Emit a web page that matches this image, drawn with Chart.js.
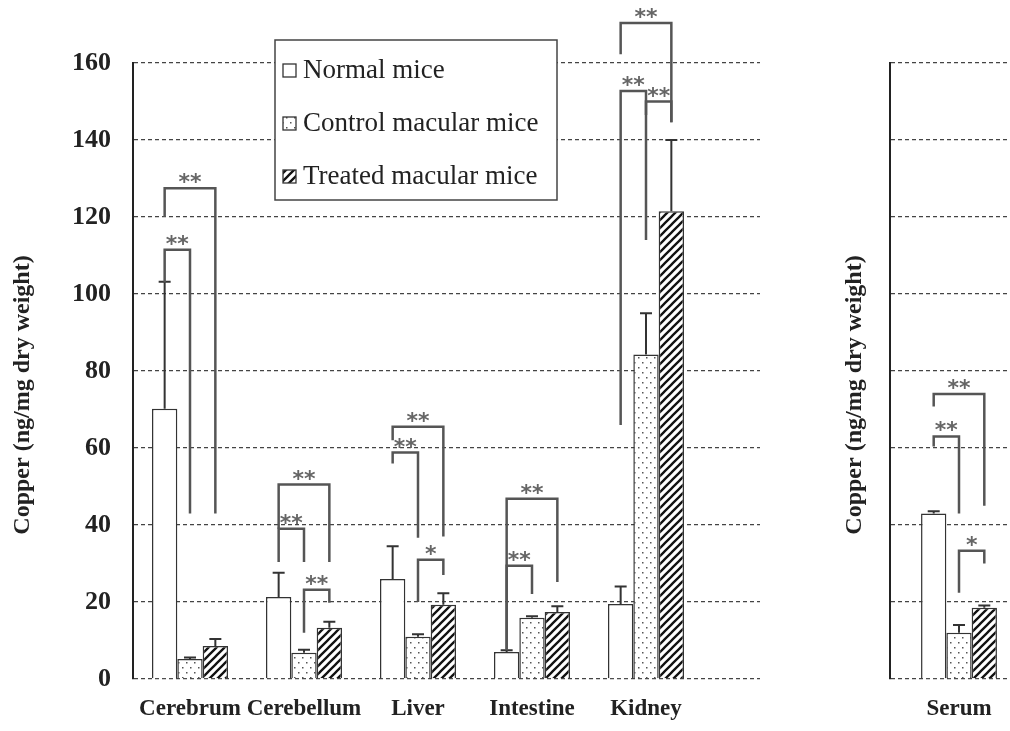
<!DOCTYPE html>
<html>
<head>
<meta charset="utf-8">
<script src="https://cdn.jsdelivr.net/npm/chart.js@4.4.0/dist/chart.umd.min.js"></script>
<style>
  html, body { margin: 0; padding: 0; background: #fff; overflow: hidden; width: 1010px; height: 731px; }
  #organChart { position: absolute; left: 0; top: 0; }
  #serumChart { position: absolute; left: 820px; top: 0; }
</style>
</head>
<body>
<canvas id="organChart" width="780" height="731"></canvas>
<canvas id="serumChart" width="215" height="731"></canvas>
<script>
// values (ng/mg dry weight)
const organs = ["Cerebrum", "Cerebellum", "Liver", "Intestine", "Kidney"];
const seriesNames = ["Normal mice", "Control macular mice", "Treated macular mice"];

const normalMice = [70.2, 21.3, 26, 7, 19.5];
const controlMice = [5.2, 6.8, 11, 15.9, 84.3];
const treatedMice = [8.6, 13.3, 19.3, 17.4, 121.5];

const normalSD = [33, 6.3, 8.5, 0.5, 4.5];
const controlSD = [0.4, 0.8, 0.6, 0.4, 10.7];
const treatedSD = [1.8, 1.6, 3, 1.5, 18.5];

const serumLabel = ["Serum"];
const serumMeans = [43, 12, 18.5];
const serumSD = [0.6, 2, 0.6];

// significance brackets: [category, from series, to series, top, left leg end, right leg end, label]
const organBrackets = [
  [0, 0, 2, 127.5, 120, 43, "**"],
  [0, 0, 1, 111.5, 103, 43, "**"],
  [1, 0, 2, 50.5, 39, 30.4, "**"],
  [1, 0, 1, 39, 30.4, 30.4, "**"],
  [1, 1, 2, 23.2, 12, 19.8, "**"],
  [2, 0, 2, 65.5, 62, 37, "**"],
  [2, 0, 1, 58.8, 56, 36.7, "**"],
  [2, 1, 2, 31, 20, 27, "*"],
  [3, 0, 2, 46.8, 7.5, 25.2, "**"],
  [3, 0, 1, 29.4, 7.5, 22.1, "**"],
  [4, 0, 2, 170.4, 162.3, 144.6, "**"],
  [4, 0, 1, 152.7, 66, 146.5, "**"],
  [4, 1, 2, 150, 114, 144.6, "**"],
];
const serumBrackets = [
  [0, 0, 2, 74, 70.8, 45, "**"],
  [0, 0, 1, 63, 60.4, 43, "**"],
  [0, 1, 2, 33.3, 22.4, 30, "*"],
];

const yTitle = "Copper (ng/mg dry weight)";

// fill patterns
function makeDots() {
  const c = document.createElement("canvas");
  c.width = 8; c.height = 10;
  const g = c.getContext("2d");
  g.fillStyle = "#fff"; g.fillRect(0, 0, 8, 10);
  g.fillStyle = "#555";
  g.fillRect(2, 2, 1.5, 1.5);
  g.fillRect(6, 7, 1.5, 1.5);
  return g.createPattern(c, "repeat");
}
function makeHatch() {
  const c = document.createElement("canvas");
  c.width = 8; c.height = 8;
  const g = c.getContext("2d");
  g.fillStyle = "#fff"; g.fillRect(0, 0, 8, 8);
  g.strokeStyle = "#111"; g.lineWidth = 2.3;
  g.beginPath();
  g.moveTo(-2, 10); g.lineTo(10, -2);
  g.moveTo(-2, 2); g.lineTo(2, -2);
  g.moveTo(6, 10); g.lineTo(10, 6);
  g.stroke();
  return g.createPattern(c, "repeat");
}
const dots = makeDots();
const hatch = makeHatch();
const fills = ["#fff", dots, hatch];

// upward error bars with a cap
const errorBars = {
  id: "errorBars",
  afterDatasetsDraw(chart) {
    const ctx = chart.ctx;
    const y = chart.scales.y;
    ctx.save();
    ctx.strokeStyle = "#333";
    ctx.lineWidth = 2;
    chart.data.datasets.forEach((ds, i) => {
      const meta = chart.getDatasetMeta(i);
      meta.data.forEach((bar, j) => {
        const v = meta.controller.getParsed(j).y;
        const top = y.getPixelForValue(v + ds.sd[j]);
        ctx.beginPath();
        ctx.moveTo(bar.x, bar.y);
        ctx.lineTo(bar.x, top);
        ctx.moveTo(bar.x - 6, top);
        ctx.lineTo(bar.x + 6, top);
        ctx.stroke();
      });
    });
    ctx.restore();
  },
};

function bracketPlugin(items) {
  return {
    id: "sigBrackets",
    afterDatasetsDraw(chart) {
      const ctx = chart.ctx;
      const y = chart.scales.y;
      ctx.save();
      ctx.strokeStyle = "#555";
      ctx.lineWidth = 2.5;
      ctx.fillStyle = "#666";
      ctx.font = "bold 22px 'DejaVu Sans'";
      ctx.textAlign = "center";
      ctx.textBaseline = "alphabetic";
      items.forEach(([cat, from, to, top, endA, endB, label]) => {
        const x1 = chart.getDatasetMeta(from).data[cat].x;
        const x2 = chart.getDatasetMeta(to).data[cat].x;
        const yt = y.getPixelForValue(top);
        ctx.beginPath();
        ctx.moveTo(x1, y.getPixelForValue(endA));
        ctx.lineTo(x1, yt);
        ctx.lineTo(x2, yt);
        ctx.lineTo(x2, y.getPixelForValue(endB));
        ctx.stroke();
        ctx.fillText(label, (x1 + x2) / 2, yt + 1);
      });
      ctx.restore();
    },
  };
}

// rotated y title, sitting a little below the axis middle as in the figure
function yTitlePlugin(cx) {
  return {
    id: "yTitle",
    afterDraw(chart) {
      const ctx = chart.ctx;
      const area = chart.chartArea;
      ctx.save();
      ctx.translate(cx, (area.top + area.bottom) / 2 + 24);
      ctx.rotate(-Math.PI / 2);
      ctx.font = "bold 24px 'Liberation Serif'";
      ctx.fillStyle = "#222";
      ctx.textAlign = "center";
      ctx.textBaseline = "middle";
      ctx.fillText(yTitle, 0, 0);
      ctx.restore();
    },
  };
}

// boxed legend inside the plot
const legendBox = {
  id: "legendBox",
  afterDraw(chart) {
    const ctx = chart.ctx;
    const left = chart.chartArea.left + 142;
    const top = 40;
    ctx.save();
    ctx.fillStyle = "#fff";
    ctx.fillRect(left, top, 282, 160);
    ctx.strokeStyle = "#444";
    ctx.lineWidth = 1.5;
    ctx.strokeRect(left, top, 282, 160);
    ctx.font = "27px 'Liberation Serif'";
    ctx.textBaseline = "middle";
    chart.data.datasets.forEach((ds, i) => {
      const cy = top + 30 + i * 53;
      ctx.fillStyle = ds.backgroundColor;
      ctx.fillRect(left + 8, cy - 6, 13, 13);
      ctx.strokeStyle = "#333";
      ctx.lineWidth = 1.3;
      ctx.strokeRect(left + 8, cy - 6, 13, 13);
      ctx.fillStyle = "#222";
      ctx.fillText(ds.label, left + 28, cy + 1);
    });
    ctx.restore();
  },
};

function yScale(showTicks, width) {
  return {
    min: 0,
    max: 160,
    ticks: {
      display: showTicks,
      stepSize: 20,
      padding: 22,
      color: "#222",
      font: { family: "Liberation Serif", size: 26, weight: "bold" },
    },
    grid: { color: "#444", lineWidth: 1.3, drawTicks: false },
    border: { display: true, color: "#222", width: 2, dash: [4, 3] },
    afterFit: (s) => { s.width = width; },
  };
}

const xFont = { family: "Liberation Serif", size: 23, weight: "bold" };

new Chart(document.getElementById("organChart"), {
  type: "bar",
  data: {
    datasets: [normalMice, controlMice, treatedMice].map((vals, i) => ({
      label: seriesNames[i],
      data: vals.map((v, k) => ({ x: k + 0.5, y: v })),
      sd: [normalSD, controlSD, treatedSD][i],
      backgroundColor: fills[i],
      borderColor: "#333",
      borderWidth: 1.5,
      categoryPercentage: 0.667,
      barPercentage: 1,
    })),
  },
  options: {
    responsive: false,
    animation: false,
    layout: { padding: { top: 63, right: 20, left: 0, bottom: 0 } },
    scales: {
      x: {
        type: "linear",
        min: 0,
        max: 5.5,
        offset: false,
        afterBuildTicks: (s) => { s.ticks = organs.map((_, i) => ({ value: i + 0.5 })); },
        ticks: {
          autoSkip: false,
          maxRotation: 0,
          padding: 8,
          color: "#222",
          font: xFont,
          callback: (v, i) => organs[i],
        },
        grid: { display: false },
        border: { display: false },
        afterFit: (s) => { s.height = 52; },
      },
      y: yScale(true, 133),
    },
    plugins: {
      legend: { display: false },
      tooltip: { enabled: false },
    },
  },
  plugins: [errorBars, bracketPlugin(organBrackets), legendBox, yTitlePlugin(23)],
});

new Chart(document.getElementById("serumChart"), {
  type: "bar",
  data: {
    labels: serumLabel,
    datasets: serumMeans.map((v, i) => ({
      label: seriesNames[i],
      data: [v],
      sd: [serumSD[i]],
      backgroundColor: fills[i],
      borderColor: "#333",
      borderWidth: 1.5,
      categoryPercentage: 0.55,
      barPercentage: 1,
    })),
  },
  options: {
    responsive: false,
    animation: false,
    layout: { padding: { top: 63, right: 7, left: 0, bottom: 0 } },
    scales: {
      x: {
        ticks: { padding: 8, color: "#222", font: xFont },
        grid: { display: false },
        border: { display: false },
        afterFit: (s) => { s.height = 52; },
      },
      y: yScale(false, 70),
    },
    plugins: {
      legend: { display: false },
      tooltip: { enabled: false },
    },
  },
  plugins: [errorBars, bracketPlugin(serumBrackets), yTitlePlugin(35)],
});
</script>
</body>
</html>
